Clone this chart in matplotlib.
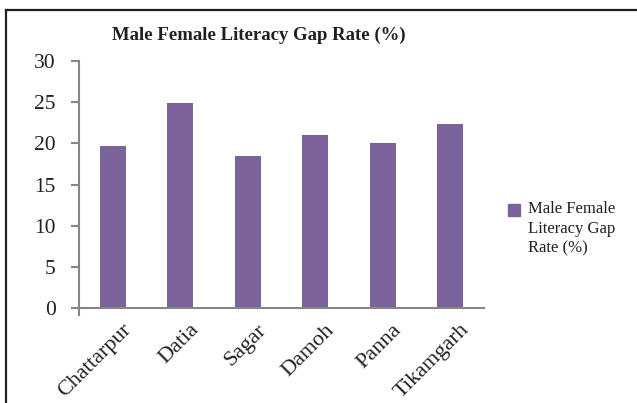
import matplotlib
matplotlib.use("Agg")
import matplotlib.pyplot as plt
import matplotlib.transforms as mtransforms
from matplotlib.patches import Rectangle
from matplotlib.lines import Line2D

# data
districts = ["Chattarpur", "Datia", "Sagar", "Damoh", "Panna", "Tikamgarh"]
gap_rate = [19.7, 24.9, 18.5, 21.0, 20.0, 22.4]
series_name = "Male Female Literacy Gap Rate (%)"

bar_color = "#7B629B"
axis_color = "#868686"
text_color = "#231F20"

plt.rcParams["font.family"] = ["Liberation Serif", "DejaVu Serif"]

W, H = 637, 403
fig = plt.figure(figsize=(W / 100, H / 100), dpi=100)
ax = fig.add_axes([79 / W, 1 - 308 / H, (484 - 79) / W, (308 - 61) / H])

x = list(range(len(districts)))
ax.bar(x, gap_rate, width=0.385, color=bar_color, label=series_name)

ax.set_xlim(-0.5, len(districts) - 0.5)
ax.set_ylim(0, 30)
ax.set_yticks(range(0, 31, 5))
ax.tick_params(axis="y", labelsize=15.5, colors=text_color, length=5.8,
               width=1.5, color=axis_color, pad=11)
ax.set_xticks(x)
ax.set_xticklabels(districts, rotation=45, ha="right", va="top",
                   rotation_mode="anchor", fontsize=16, color=text_color)
ax.tick_params(axis="x", length=0, pad=9)

# shift the rotated labels a little to the right, like the original
shift = mtransforms.ScaledTranslation(9 / 100, 0, fig.dpi_scale_trans)
for lab in ax.get_xticklabels():
    lab.set_transform(lab.get_transform() + shift)

for side in ["top", "right"]:
    ax.spines[side].set_visible(False)
for side in ["left", "bottom"]:
    ax.spines[side].set_color(axis_color)
    ax.spines[side].set_linewidth(1.5)

# little tick below the axis corner
ax.plot([-0.5, -0.5], [0, -0.8], color=axis_color, lw=1.5, clip_on=False)

fig.text(259 / W, 1 - 35 / H, series_name, ha="center", va="center",
         fontsize=13.5, fontweight="bold", color=text_color)

# legend drawn by hand (square aligned to first line like the original)
fig.add_artist(Rectangle((508 / W, 1 - 216 / H), 12 / W, 12 / H,
                         transform=fig.transFigure, color=bar_color))
fig.text(528 / W, 1 - 201 / H, "Male Female\nLiteracy Gap\nRate (%)",
         ha="left", va="top", fontsize=12, color=text_color, linespacing=1.3)

# outer frame (cut off at the right and bottom)
fig.add_artist(Line2D([6 / W, 6 / W], [0, 1 - 10 / H], transform=fig.transFigure,
                      color=text_color, lw=1.6))
fig.add_artist(Line2D([6 / W, 1], [1 - 10 / H, 1 - 10 / H], transform=fig.transFigure,
                      color=text_color, lw=1.6))

fig.savefig("out.png", dpi=100)
